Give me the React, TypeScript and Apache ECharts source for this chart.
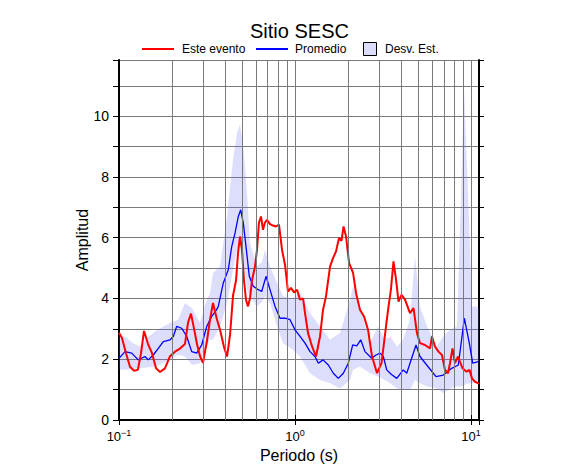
import React, { useEffect, useRef } from "react";
import * as echarts from "echarts";

// ---- Data (period in seconds, amplitude) ----
const redPeriod = [0.1, 0.104, 0.1096, 0.1155, 0.1217, 0.128, 0.1334, 0.1387, 0.1462, 0.154, 0.1623, 0.171, 0.1824, 0.195, 0.208, 0.222, 0.237, 0.2466, 0.2565, 0.267, 0.2774, 0.2886, 0.3, 0.316, 0.3289, 0.342, 0.3605, 0.375, 0.395, 0.411, 0.4274, 0.4446, 0.4625, 0.4745, 0.487, 0.4997, 0.5129, 0.5266, 0.5405, 0.5548, 0.5696, 0.5925, 0.6081, 0.624, 0.641, 0.658, 0.675, 0.693, 0.721, 0.75, 0.78, 0.811, 0.844, 0.878, 0.912, 0.949, 0.987, 1.027, 1.068, 1.111, 1.14, 1.186, 1.25, 1.316, 1.387, 1.443, 1.5, 1.581, 1.644, 1.71, 1.778, 1.837, 1.887, 1.95, 2.028, 2.137, 2.222, 2.339, 2.466, 2.599, 2.739, 2.924, 3.1, 3.245, 3.374, 3.508, 3.627, 3.75, 3.873, 4.027, 4.217, 4.501, 4.713, 4.931, 5.128, 5.479, 5.85, 6.003, 6.24, 6.534, 6.836, 7.112, 7.395, 7.596, 7.848, 8.11, 8.433, 8.953, 9.427, 9.8, 10.13, 10.53, 11.1];
const redAmp = [2.87, 2.7, 2.2, 1.75, 1.62, 1.65, 2.2, 2.93, 2.5, 2.2, 1.7, 1.58, 1.7, 2.1, 2.25, 2.35, 2.5, 3.2, 3.5, 3.0, 2.5, 2.1, 1.88, 2.6, 3.3, 3.85, 3.3, 2.97, 2.4, 2.09, 2.8, 4.1, 4.6, 5.5, 6.04, 5.6, 4.6, 3.96, 3.74, 4.0, 4.6, 5.05, 5.6, 6.5, 6.7, 6.26, 6.5, 6.59, 6.45, 6.4, 6.37, 6.43, 5.6, 5.1, 4.23, 4.35, 4.2, 4.29, 3.96, 4.0, 3.52, 2.86, 2.42, 2.09, 2.75, 3.63, 4.07, 5.05, 5.33, 5.55, 5.99, 5.9, 6.37, 6.04, 5.17, 4.84, 4.18, 3.63, 3.41, 2.97, 2.09, 1.54, 1.87, 2.8, 3.6, 4.3, 5.22, 4.62, 3.9, 4.12, 3.96, 3.52, 3.68, 2.86, 2.53, 2.47, 2.36, 2.75, 2.42, 2.25, 2.14, 1.65, 1.54, 1.87, 2.36, 1.87, 2.09, 1.7, 1.59, 1.65, 1.37, 1.26, 1.2];

const bluePeriod = [0.1, 0.1082, 0.1181, 0.1287, 0.1405, 0.1467, 0.1566, 0.1672, 0.1785, 0.195, 0.2035, 0.2127, 0.2271, 0.2425, 0.2589, 0.2764, 0.2951, 0.315, 0.3363, 0.3557, 0.3666, 0.3914, 0.4178, 0.4369, 0.4562, 0.4763, 0.4915, 0.5085, 0.5316, 0.55, 0.5794, 0.6187, 0.6468, 0.6842, 0.7211, 0.7698, 0.8219, 0.8774, 0.9367, 1.0, 1.068, 1.14, 1.217, 1.2992, 1.3567, 1.443, 1.5465, 1.651, 1.762, 1.881, 2.008, 2.127, 2.242, 2.362, 2.498, 2.728, 2.886, 3.041, 3.175, 3.319, 3.532, 3.784, 4.124, 4.312, 4.87, 5.128, 5.602, 6.327, 6.96, 7.768, 8.47, 9.161, 9.779, 10.22, 11.0];
const blueAmp = [2.03, 2.25, 2.2, 1.98, 2.09, 1.98, 2.14, 2.36, 2.58, 2.64, 2.75, 3.08, 3.02, 2.75, 2.25, 2.2, 2.47, 3.08, 3.41, 3.6, 3.74, 4.51, 4.95, 5.71, 6.15, 6.7, 6.92, 6.48, 5.5, 4.73, 4.4, 4.29, 4.23, 4.73, 4.29, 3.74, 3.35, 3.35, 3.3, 2.97, 2.75, 2.53, 2.25, 2.09, 1.87, 1.98, 1.81, 1.54, 1.37, 1.54, 1.87, 2.47, 2.44, 2.64, 2.25, 2.03, 2.14, 2.2, 2.09, 1.65, 1.5, 1.37, 1.65, 1.54, 2.47, 2.09, 1.81, 1.43, 1.48, 1.7, 1.81, 3.35, 2.53, 1.87, 1.92];

const bandPeriod = [0.1, 0.1082, 0.1185, 0.1316, 0.1443, 0.1601, 0.1755, 0.195, 0.2163, 0.237, 0.2599, 0.2886, 0.3081, 0.3289, 0.342, 0.375, 0.411, 0.4446, 0.4683, 0.487, 0.5064, 0.5337, 0.5548, 0.6081, 0.6494, 0.675, 0.721, 0.7903, 0.8549, 0.9741, 1.068, 1.217, 1.387, 1.581, 1.802, 2.054, 2.137, 2.339, 2.668, 2.962, 3.245, 3.466, 3.798, 4.109, 4.501, 4.807, 5.128, 5.623, 6.41, 6.934, 7.596, 8.328, 8.776, 9.125, 9.617, 10.13, 11.1];
const bandLower = [1.65, 1.65, 1.68, 1.7, 1.73, 1.76, 1.85, 1.98, 2.15, 2.09, 1.81, 1.87, 2.3, 2.64, 2.64, 3.08, 3.85, 4.95, 5.6, 5.82, 5.38, 4.29, 4.07, 3.74, 3.9, 4.07, 3.85, 3.08, 2.53, 2.31, 2.09, 1.54, 1.32, 1.21, 1.04, 1.32, 1.65, 1.76, 1.54, 1.43, 1.32, 1.21, 1.04, 0.99, 0.99, 1.32, 1.21, 1.1, 1.04, 0.88, 1.04, 1.1, 1.1, 1.15, 1.2, 1.21, 1.32];
const bandUpper = [2.75, 2.75, 2.55, 2.42, 2.7, 2.91, 3.05, 3.19, 3.3, 3.85, 3.68, 3.19, 3.8, 4.18, 4.84, 5.05, 6.7, 8.57, 9.45, 9.73, 9.12, 7.47, 5.82, 5.05, 5.2, 5.6, 5.05, 4.51, 4.07, 4.0, 4.2, 3.52, 3.08, 2.64, 2.86, 3.96, 4.4, 3.74, 2.53, 3.08, 2.64, 2.75, 2.42, 2.64, 3.3, 5.38, 3.74, 3.08, 2.42, 2.75, 2.97, 3.08, 7.47, 10.88, 7.47, 3.74, 3.74];

const minorGridPeriods = [0.2, 0.3, 0.4, 0.5, 0.6, 0.7, 0.8, 0.9, 2, 3, 4, 5, 6, 7, 8, 9];

const titleText = "Sitio SESC";
const xName = "Periodo (s)";
const yName = "Amplitud";
const legendNames = ["Este evento", "Promedio", "Desv. Est."];

const FONT = "'Liberation Sans', Arial, Helvetica, sans-serif";
const BAND_FILL = "rgba(100,100,240,0.22)";
const GRID_COLOR = "#7a7a7a";

const supMap: Record<string, string> = { "-1": "−1", "0": "0", "1": "1" };

export default function App() {
  const ref = useRef<HTMLDivElement>(null);

  useEffect(() => {
    document.body.style.margin = "0";
    if (!ref.current) return;
    const chart = echarts.init(ref.current, undefined, { renderer: "svg" });

    const bandData = bandPeriod.map((p, i) => [p, bandLower[i], bandUpper[i]]);

    const option: any = {
      animation: false,
      backgroundColor: "#ffffff",
      textStyle: { fontFamily: FONT },
      title: {
        text: titleText,
        left: 250,
        top: 22,
        padding: 0,
        textStyle: { fontSize: 20, lineHeight: 18, fontWeight: "normal", color: "#000", fontFamily: FONT },
      },
      grid: { left: 119, right: 107, top: 60, bottom: 55, containLabel: false },
      xAxis: [
        {
          type: "log",
          logBase: 10,
          min: 0.1,
          max: 11.1,
          position: "bottom",
          name: xName,
          nameLocation: "middle",
          nameGap: 27,
          nameMoveOverlap: false,
          nameTextStyle: { fontSize: 16, color: "#000", fontFamily: FONT },
          axisLine: { show: true, lineStyle: { color: "#000", width: 2 } },
          axisTick: { show: true, inside: false, length: 5, lineStyle: { color: "#000", width: 1 } },
          axisLabel: {
            margin: 8,
            color: "#000",
            formatter: (v: number) => {
              const e = Math.round(Math.log10(v));
              if (Math.abs(Math.log10(v) - e) > 1e-6) return "";
              return "{b|10}{s|" + (supMap[String(e)] ?? String(e)) + "}";
            },
            rich: {
              b: { fontSize: 13, fontFamily: FONT, color: "#000" },
              s: { fontSize: 9, fontFamily: FONT, color: "#000", padding: [0, 0, 8, 0] },
            },
          },
          splitLine: { show: true, lineStyle: { color: GRID_COLOR, width: 1 } },
        },
        {
          type: "log",
          logBase: 10,
          min: 0.1,
          max: 11.1,
          position: "top",
          axisLine: { show: true, lineStyle: { color: "#000", width: 2 } },
          axisTick: { show: true, inside: false, length: 5, lineStyle: { color: "#000", width: 1 } },
          axisLabel: { show: false },
          splitLine: { show: false },
        },
      ],
      yAxis: [
        {
          type: "value",
          min: 0,
          max: 11.85,
          interval: 1,
          position: "left",
          name: yName,
          nameLocation: "middle",
          nameGap: 29,
          nameMoveOverlap: false,
          nameRotate: 90,
          nameTextStyle: { fontSize: 16, color: "#000", fontFamily: FONT },
          axisLine: { show: true, lineStyle: { color: "#000", width: 2 } },
          axisTick: { show: true, inside: false, length: 6, lineStyle: { color: "#000", width: 1 } },
          axisLabel: {
            margin: 10,
            fontSize: 14,
            color: "#000",
            fontFamily: FONT,
            formatter: (v: number) => (Number.isInteger(v) && v % 2 === 0 ? String(v) : ""),
          },
          splitLine: { show: true, lineStyle: { color: GRID_COLOR, width: 1 } },
        },
        {
          type: "value",
          min: 0,
          max: 11.85,
          interval: 1,
          position: "right",
          axisLine: { show: true, lineStyle: { color: "#000", width: 2 } },
          axisTick: { show: true, inside: false, length: 5, lineStyle: { color: "#000", width: 1 } },
          axisLabel: { show: false },
          splitLine: { show: false },
        },
      ],
      series: [
        {
          name: legendNames[2],
          type: "custom",
          xAxisIndex: 0,
          yAxisIndex: 0,
          z: 1,
          silent: true,
          data: bandData,
          encode: { x: 0, y: [1, 2] },
          renderItem: (params: any, api: any) => {
            if (params.dataIndex !== 0) return { type: "group", children: [] };
            const pts: number[][] = [];
            for (let i = 0; i < bandPeriod.length; i++) pts.push(api.coord([bandPeriod[i], bandUpper[i]]));
            for (let i = bandPeriod.length - 1; i >= 0; i--) pts.push(api.coord([bandPeriod[i], bandLower[i]]));
            return { type: "polygon", shape: { points: pts }, style: { fill: BAND_FILL, stroke: "none" } };
          },
        },
        {
          name: "grid",
          type: "line",
          xAxisIndex: 0,
          yAxisIndex: 0,
          z: 2,
          silent: true,
          data: [],
          markLine: {
            silent: true,
            symbol: ["none", "none"],
            label: { show: false },
            lineStyle: { color: GRID_COLOR, width: 1, type: "solid" },
            data: minorGridPeriods.map((p) => ({ xAxis: p })),
          },
        },
        {
          name: legendNames[1],
          type: "line",
          xAxisIndex: 0,
          yAxisIndex: 0,
          z: 3,
          symbol: "none",
          showSymbol: false,
          data: bluePeriod.map((p, i) => [p, blueAmp[i]]),
          lineStyle: { color: "#0000ff", width: 1.3 },
        },
        {
          name: legendNames[0],
          type: "line",
          xAxisIndex: 0,
          yAxisIndex: 0,
          z: 4,
          symbol: "none",
          showSymbol: false,
          data: redPeriod.map((p, i) => [p, redAmp[i]]),
          lineStyle: { color: "#ff0000", width: 2 },
        },
      ],
      graphic: [
        { type: "line", shape: { x1: 142, y1: 49, x2: 174, y2: 49 }, style: { stroke: "#ff0000", lineWidth: 2 } },
        { type: "text", x: 182, y: 49, style: { text: legendNames[0], fontSize: 12, fontFamily: FONT, fill: "#000", verticalAlign: "middle" } },
        { type: "line", shape: { x1: 256, y1: 49, x2: 288, y2: 49 }, style: { stroke: "#0000ff", lineWidth: 2 } },
        { type: "text", x: 295, y: 49, style: { text: legendNames[1], fontSize: 12, fontFamily: FONT, fill: "#000", verticalAlign: "middle" } },
        { type: "rect", shape: { x: 363.5, y: 42.5, width: 13, height: 13 }, style: { fill: "#dcdcfc", stroke: "#000", lineWidth: 1 } },
        { type: "text", x: 385, y: 49, style: { text: legendNames[2], fontSize: 12, fontFamily: FONT, fill: "#000", verticalAlign: "middle" } },
      ],
    };

    chart.setOption(option);
    return () => chart.dispose();
  }, []);

  return <div ref={ref} style={{ width: 586, height: 475 }} />;
}
